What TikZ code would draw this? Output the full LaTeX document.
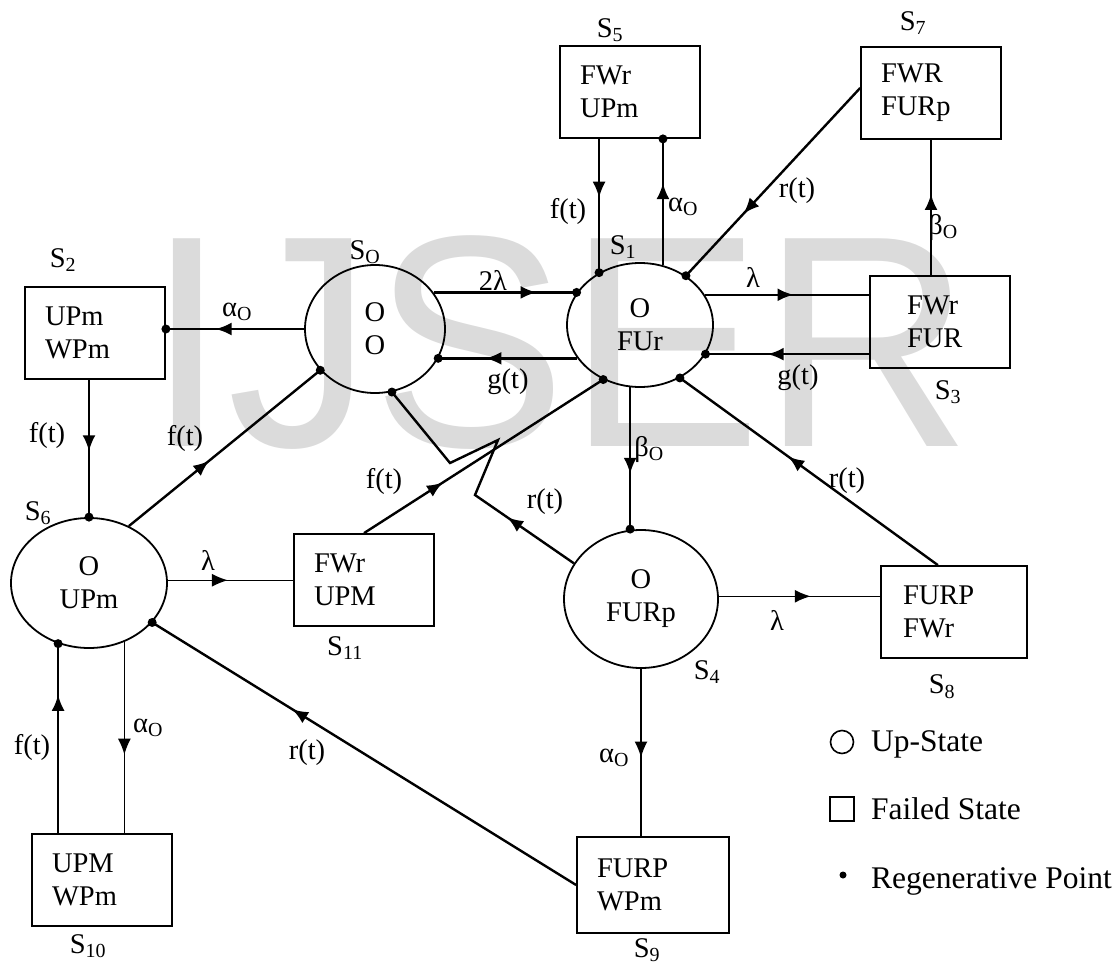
\documentclass[tikz,border=0pt]{standalone}
\usepackage{fontspec}
\setmainfont{Liberation Serif}
\newfontfamily\wmfont{Liberation Sans}
\usetikzlibrary{arrows.meta,shapes.geometric,decorations.markings}

\begin{document}
\begin{tikzpicture}[x=1pt,y=-1pt,
  every node/.style={font=\fontsize{28.5}{33}\selectfont},
  upstate/.style={ellipse,draw,line width=1.8pt,inner sep=0pt,align=center},
  failstate/.style={rectangle,draw,line width=1.8pt,minimum width=140pt,minimum height=92pt,text width=100pt,align=left,inner sep=0pt},
  legtext/.style={anchor=base west,inner sep=0pt,font=\fontsize{31.5}{36}\selectfont},
  conn/.style={line width=2.4pt},
  thinconn/.style={line width=1.5pt},
  arrat/.style={postaction={decorate,decoration={markings,mark=at position #1 with {\arrow{Latex[length=16pt,width=13pt]}}}}}]

\useasboundingbox (0,0) rectangle (1118,966);
\node[anchor=base west,inner sep=0pt,xscale=0.965,text=black!14,font=\wmfont\fontsize{302}{310}\selectfont] (wmark) at (146,446) {IJSER};

\node[upstate,minimum width=140pt,minimum height=128pt] (s0) at (375,329) {O\\O};
\node[upstate,minimum width=146pt,minimum height=124pt] (s1) at (640,325) {O\\FUr};
\node[upstate,minimum width=154pt,minimum height=138pt] (s4) at (641,599) {O\\FURp};
\node[upstate,minimum width=156pt,minimum height=130pt] (s6) at (89,583) {O\\UPm};

\node[failstate] (s2) at (95,333) {UPm\\WPm};
\node[failstate] (s5) at (630,92) {FWr\\UPm};
\node[failstate] (s7) at (931,93) {FWR\\FURp};
\node[failstate,text width=66pt] (s3) at (940,322) {FWr\\FUR};
\node[failstate] (s11) at (364,580) {FWr\\UPM};
\node[failstate,minimum width=146pt,text width=102pt] (s8) at (954,612) {FURP\\FWr};
\node[failstate,minimum width=152pt,minimum height=96pt,text width=112pt] (s9) at (653,885) {FURP\\WPm};
\node[failstate] (s10) at (102,880) {UPM\\WPm};

\node (n0) at (365,252) {S\textsubscript{O}};
\node (n1) at (623,247) {S\textsubscript{1}};
\node (n2) at (63,260) {S\textsubscript{2}};
\node (n3) at (948,392) {S\textsubscript{3}};
\node (n4) at (707,672) {S\textsubscript{4}};
\node (n5) at (610,30) {S\textsubscript{5}};
\node (n6) at (38,513) {S\textsubscript{6}};
\node (n7) at (913,23) {S\textsubscript{7}};
\node (n8) at (942,687) {S\textsubscript{8}};
\node (n9) at (647,950) {S\textsubscript{9}};
\node (n10) at (88,946) {S\textsubscript{10}};
\node (n11) at (345,648) {S\textsubscript{11}};

\draw[conn,arrat=0.64] (s0.west) -- (s0.west -| s2.east);
\draw[conn,arrat=0.52] (s6.north |- s2.south) -- (s6.north);
\draw[conn,arrat=0.42] (s6.55) -- (s0.217);
\draw[conn,arrat=0.72] (s0.32) -- (s0.32 -| s1.153);
\draw[conn,arrat=0.66] (s1.208) -- (s1.208 -| s0.335);
\draw[conn,arrat=0.44] (s1.128 |- s5.south) -- (s1.128);
\draw[conn,arrat=0.65] (s1.69) -- (s1.69 |- s5.south);
\draw[conn,arrat=0.67] (s7.176) -- (s1.47);
\draw[conn,arrat=0.6] (s7.south |- s3.north) -- (s7.south);
\draw[conn,arrat=0.54] (s1.25) -- (s1.25 -| s3.west);
\draw[conn,arrat=0.62] (s1.336 -| s3.west) -- (s1.336);
\draw[conn,arrat=0.61] (s1.261) -- (s1.261 |- s4.north);
\draw[conn,arrat=0.58] (s8.109) -- (s1.307);
\draw[conn,arrat=0.33] (s11.north) -- (s1.236);
\coordinate (zz1) at (475,495);
\coordinate (zz2) at (498,440);
\coordinate (zz3) at (450,463);
\draw[conn,arrat=0.25] (s4.152) -- (zz1) -- (zz2) -- (zz3) -- (s0.285);
\draw[thinconn,arrat=0.48] (s6.2) -- (s6.2 -| s11.west);
\draw[thinconn,arrat=0.57] (s4.2) -- (s4.2 -| s8.west);
\draw[thinconn,arrat=0.53] (s4.south) -- (s4.south |- s9.north);
\draw[conn,arrat=0.73] (s6.243 |- s10.north) -- (s6.243);
\draw[thinconn,arrat=0.59] (s6.301) -- (s6.301 |- s10.north);
\draw[conn,arrat=0.67] (s9.west) -- (s6.328);

\fill (s0.west -| s2.east) circle (4.5);
\fill (s6.north) circle (4.5);
\fill (s0.217) circle (4.5);
\fill (s0.285) circle (4.5);
\fill (s1.208 -| s0.335) circle (4.5);
\fill (s0.32 -| s1.153) circle (4.5);
\fill (s1.128) circle (4.5);
\fill (s1.69 |- s5.south) circle (4.5);
\fill (s1.47) circle (4.5);
\fill (s1.336) circle (4.5);
\fill (s1.307) circle (4.5);
\fill (s1.236) circle (4.5);
\fill (s1.261 |- s4.north) circle (4.5);
\fill (s6.328) circle (4.5);
\fill (s6.243) circle (4.5);

\node (e02) at (237,312) {α\textsubscript{O}};
\node (e26) at (47,435) {f(t)};
\node (e60) at (185,438) {f(t)};
\node (e01) at (493,280) {2λ};
\node (e10) at (508,382) {g(t)};
\node (e51) at (568,211) {f(t)};
\node (e15) at (683,207) {α\textsubscript{O}};
\node (e71) at (797,191) {r(t)};
\node (e37) at (943,227) {β\textsubscript{O}};
\node (e13) at (753,277) {λ};
\node (e31) at (798,378) {g(t)};
\node (e14) at (649,449) {β\textsubscript{O}};
\node (e81) at (847,481) {r(t)};
\node (e111) at (384,481) {f(t)};
\node (e40) at (545,502) {r(t)};
\node (e611) at (208,560) {λ};
\node (e48) at (777,620) {λ};
\node (e49) at (614,758) {α\textsubscript{O}};
\node (e106) at (32,747) {f(t)};
\node (e610) at (148,728) {α\textsubscript{O}};
\node (e96) at (307,753) {r(t)};

\node[circle,draw,line width=1.6pt,minimum size=23pt,inner sep=0pt] (legup) at (842,742) {};
\node[legtext] (leguptxt) at (871,751) {Up-State};
\node[rectangle,draw,line width=1.6pt,minimum size=24pt,inner sep=0pt] (legfail) at (842,809) {};
\node[legtext] (legfailtxt) at (871,819) {Failed State};
\fill (843,875) circle (3.5);
\node[legtext] (legregtxt) at (871,888) {Regenerative Point};
\end{tikzpicture}
\end{document}
